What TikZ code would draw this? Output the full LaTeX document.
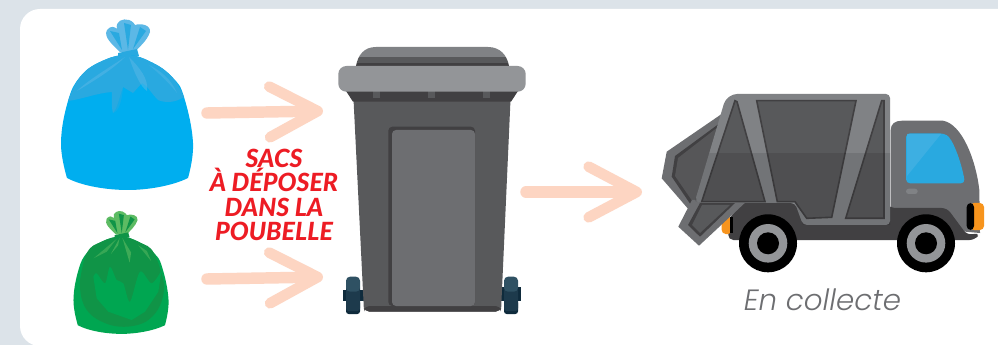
\documentclass[tikz,border=0pt]{standalone}
\usepackage{fontspec}
\setmainfont{Lato}
\newfontfamily\titrefont[ItalicFont={Lato Black Italic}]{Lato Black}
\newfontfamily\legendefont[ItalicFont={Poppins Light Italic}]{Poppins Light}
\usepackage{xcolor}
\usetikzlibrary{arrows.meta}
\definecolor{fond}{HTML}{DCE3E9}
\definecolor{gris1}{HTML}{414042}
\definecolor{gris2}{HTML}{58595B}
\definecolor{gris3}{HTML}{6D6E71}
\definecolor{gris4}{HTML}{808285}
\definecolor{gris5}{HTML}{939598}
\definecolor{peche}{HTML}{FDD5C2}
\definecolor{rouge}{HTML}{ED1C24}
\definecolor{bleu1}{HTML}{00AEEF}
\definecolor{bleu2}{HTML}{29A9E0}
\definecolor{bleu3}{HTML}{5CB8E6}
\definecolor{vert1}{HTML}{00A651}
\definecolor{vert2}{HTML}{109447}
\definecolor{vert3}{HTML}{5DBB63}
\definecolor{roue1}{HTML}{2F5163}
\definecolor{roue2}{HTML}{1D3A4C}
\definecolor{roue3}{HTML}{0F2B3C}
\definecolor{orange1}{HTML}{F7941D}
\tikzset{
  fleche/.style ={peche,line width=8.6pt,line cap=round,
                  -{Straight Barb[length=36pt,width=38pt,line width=8pt,round]}},
  titre/.style  ={font=\titrefont\itshape\fontsize{18.8}{18.2}\selectfont,text=rouge,align=center,inner sep=0pt},
  legende/.style={font=\legendefont\itshape\fontsize{22}{26}\selectfont,text=gris3,inner sep=0pt,anchor=base},
}
% bag drawn around its own origin, scale and colours given
\newcommand{\sacpoubelle}[7]{%
  \begin{scope}[shift={(#1,#2)},scale=#3]
    % ears of the knot
    \fill[#6] (-7,-9) .. controls (-14,-16) and (-24,-24) .. (-20,-31)
      .. controls (-16,-36) and (-12,-34) .. (-10,-32)
      .. controls (-12,-40) and (-4,-43) .. (2,-41)
      .. controls (6,-40) and (8,-36) .. (8,-36)
      .. controls (14,-38) and (24,-36) .. (23,-29)
      .. controls (20,-20) and (12,-14) .. (8,-9) -- cycle;
    \fill[#5] (-5,-11) -- (-17,-30) -- (-8,-28) -- cycle;
    \fill[#5] (1,-11) -- (-3,-38) -- (4,-36) -- cycle;
    \fill[#5] (6,-12) -- (13,-34) -- (19,-30) -- cycle;
    \fill[#5] (-9,-8) -- (10,-12) -- (12,-5) -- (-9,-2) -- cycle;
    % body
    \fill[#4] plot[smooth,tension=.7] coordinates {(-60,117) (-66,82) (-59,40) (-47,16) (-27,1)
        (0,-6) (26,2) (46,17) (57,36) (66,82) (61,117)}
      .. controls (45,125) and (20,129) .. (1,129) .. controls (-20,129) and (-45,125) .. (-60,117) -- cycle;
    #7
  \end{scope}}
\begin{document}
\begin{tikzpicture}[x=0.75pt,y=-0.75pt]
  \useasboundingbox (0,0) rectangle (998,345);
  \fill[fond] (0,0) rectangle (998,345);
  \fill[white,rounded corners=15pt] (20,9) rectangle (1020,346);
  % bags
  \sacpoubelle{127}{61}{1}{bleu1}{bleu2}{bleu3}{
    \fill[bleu2] plot[smooth,tension=.7] coordinates {(-59,40) (-47,16) (-27,1) (0,-6) (26,2) (46,17) (57,36)}
        .. controls (48,42) and (38,42) .. (31,39) .. controls (24,32) and (20,24) .. (15,22)
        -- (6,32) -- (-4,26) .. controls (-8,38) and (-10,48) .. (-14,52) .. controls (-16,44) and (-15,38) .. (-15,31)
        .. controls (-30,32) and (-44,38) .. (-59,40) -- cycle;
    \fill[bleu3,opacity=.5] (-2,-4) .. controls (-20,8) and (-40,20) .. (-50,30) .. controls (-30,18) and (-14,8) .. (-2,-4);
    \fill[bleu3,opacity=.5] (2,-4) .. controls (8,14) and (14,26) .. (20,30) .. controls (22,18) and (12,6) .. (2,-4);
    \fill[bleu3,opacity=.4] (22,4) .. controls (34,14) and (44,24) .. (50,32) .. controls (44,18) and (34,10) .. (22,4);
    \fill[bleu2,opacity=.5] (-4,-2) .. controls (-8,30) and (-10,50) .. (-14,52) .. controls (-6,50) and (-2,30) .. (-4,-2);
  }
  \sacpoubelle{121}{241}{0.72}{vert1}{vert2}{vert3}{
    \fill[vert2] plot[smooth,tension=.7] coordinates {(-57,55) (-47,16) (-27,1) (0,-6) (26,2) (46,17) (60,60)}
       .. controls (60,85) and (50,100) .. (40,108) .. controls (30,118) and (0,124) .. (-22,114)
       .. controls (-45,105) and (-58,90) .. (-57,55) -- cycle;
    \fill[vert1] plot[smooth,tension=.5] coordinates {(-38.4,49.5) (-33.8,44.9) (-22.2,58.8) (-15.3,35.7) (-6,54.2) (3.2,58.8)
       (12.5,84.3) (26.4,42.6) (42.6,58.8) (56.5,40.3)} -- (51.8,70.4) -- (33.3,98.2) -- (14.8,109.7) -- (-17.6,98.2) -- (-33.8,79.6) -- cycle;
    \fill[vert3,opacity=.6] (-2,-4) -- (-14,18) -- (-4,6) -- cycle;
    \fill[vert3,opacity=.6] (2,-4) -- (12,30) -- (14,16) -- cycle;
    \fill[vert3,opacity=.5] (-6,-3) -- (-38,24) -- (-20,15) -- cycle;
    \fill[vert3,opacity=.5] (24,6) -- (42,28) -- (36,14) -- cycle;
  }
  % bin
  \fill[roue3] (342.7,290) rectangle (366,300.7);
  \fill[roue3] (500,287) rectangle (521,300.7);
  \begin{scope}
    \clip (356,66) .. controls (358,55) and (364,47) .. (376,47) -- (488,47) .. controls (500,47) and (507,55) .. (509,66) -- cycle;
    \fill[gris4] (350,45) rectangle (515,57);
    \fill[gris2] (350,57) rectangle (515,63);
    \fill[gris1] (350,63) rectangle (515,67);
  \end{scope}
  \fill[gris2,rounded corners=4pt] (353.3,95) -- (510.7,95) -- (501,311.7) -- (364,311.7) -- cycle;
  \fill[gris1,rounded corners=4pt] (363.8,306) -- (501.2,306) -- (500.8,311.7) -- (364.2,311.7) -- cycle;
  \fill[gris1] (344,88) -- (520,88) -- (511,101.7) -- (353,101.7) -- cycle;
  \fill[gris1,rounded corners=3pt] (388.3,306) -- (388.3,126.7) -- (475,126.7) -- (475,306) -- cycle;
  \fill[gris3,rounded corners=3pt] (392,306) -- (392,130) -- (475,130) -- (475,306) -- cycle;
  \foreach \xdent in {373.3,428.3,483.3}{
    \fill[gris2] (\xdent,91) rectangle +(7,7.5);
  }
  \fill[gris5,rounded corners=6pt] (338.3,66) rectangle (525.7,91.7);
  \foreach \xroue in {346,504}{
    \fill[roue3,rounded corners=2pt] (\xroue,300) rectangle +(14,14);
    \fill[roue2,rounded corners=2pt] (\xroue,285) rectangle +(14,26);
    \fill[roue1,rounded corners=3pt] (\xroue,276.7) rectangle +(14,15);
  }
  % truck
  \fill[gris3] (890.7,225) -- (890.7,130) .. controls (890.7,124) and (895,120.7) .. (902,120.7) -- (943,120.7)
     .. controls (962,124) and (976,160) .. (979.3,190) -- (980,233) -- cycle;
  \fill[gris1,rounded corners=4pt] (728,240) -- (729,218) -- (746,200) -- (880,200) -- (891,208) -- (947,208) -- (967,235) -- (980,233) -- (975,240) -- cycle;
  \fill[bleu2,rounded corners=3pt] (906,133.3) -- (943.3,133.3) .. controls (952,138) and (961,160) .. (965,183.3) -- (906,183.3) -- cycle;
  \fill[bleu3,opacity=.4] (907,134) -- (941,134) -- (907,176) -- cycle;
  \fill[gris4,rounded corners=2pt] (906,188.7) rectangle (917.7,194);
  \fill[orange1,rounded corners=3pt] (970,203) rectangle (984,230);
  \fill[black,rounded corners=3pt] (966.7,203) rectangle (974,230);
  \fill[orange1,rounded corners=3pt] (721.7,216.7) rectangle (732,234);
  \fill[black] (730,217) rectangle (733,233);
  % hopper behind the body
  \fill[gris3] (725,111.7) -- (666.7,151.7) -- (661.7,178.3) -- (691.7,213) -- (720,200) -- cycle;
  \fill[gris1] (720,123) -- (675,156) -- (671.7,176.7) -- (693,208) -- (720,195) -- cycle;
  \fill[gris2!90!gris1] (718,127) -- (678,158) -- (675,176) -- (695,205) -- (718,195) -- cycle;
  \fill[gris3] (692,200) -- (678.3,226.7) -- (699,245.7) -- (748,200) -- cycle;
  \fill[gris1] (700,203) -- (688,225) -- (700,236.7) -- (735,203) -- cycle;
  \fill[gris2] (702,205) -- (692,225) -- (700,233) -- (730,205) -- cycle;
  % body of the truck
  \fill[gris4,rounded corners=3pt] (695,201) -- (725,100) -- (733,94) -- (890,94) -- (890,225) -- (803,225) -- (795,203) -- (700,203) -- cycle;
  \foreach \panneau in {
      {(735,100.7) -- (737,101.7) -- (765,201.7) -- (701.7,201.7)},
      {(756.7,100.7) -- (856,100.7) -- (831.7,217.3) -- (806.7,218.3) -- (795,201.7) -- (777.3,201.7)},
      {(881.7,100.7) -- (884,100.7) -- (884,218.3) -- (845.7,218.3)}}{
    \draw[gris1,fill=gris2,line width=1.2pt] \panneau -- cycle;
  }
  \begin{scope}
    \clip (695,201) -- (725,100) -- (733,94) -- (890,94) -- (890,225) -- (803,225) -- (795,203) -- (700,203) -- cycle;
    \fill[black,opacity=.1] (690,152.7) rectangle (895,230);
  \end{scope}
  \foreach \xpneu in {768,926}{
    \fill[black] (\xpneu,243.3) circle (29);
    \fill[gris5] (\xpneu,243.3) circle (19.3);
    \fill[black] (\xpneu,243.3) circle (11);
  }
  % arrows
  \coordinate (sacbleu) at (207,113);
  \coordinate (sacvert) at (207,279);
  \coordinate (bacA) at (323,111);
  \coordinate (bacB) at (323,277);
  \coordinate (bacsortie) at (526,192);
  \coordinate (camion) at (642,192);
  \draw[fleche] (sacbleu) -- (bacA);
  \draw[fleche] (sacvert) -- (bacB);
  \draw[fleche] (bacsortie) -- (camion);
  % texts
  \node[titre] (consigne) at (274,195) {SACS\\À DÉPOSER\\DANS LA\\POUBELLE};
  \node[legende] (collecte) at (822.5,310.7) {En collecte};
\end{tikzpicture}
\end{document}
